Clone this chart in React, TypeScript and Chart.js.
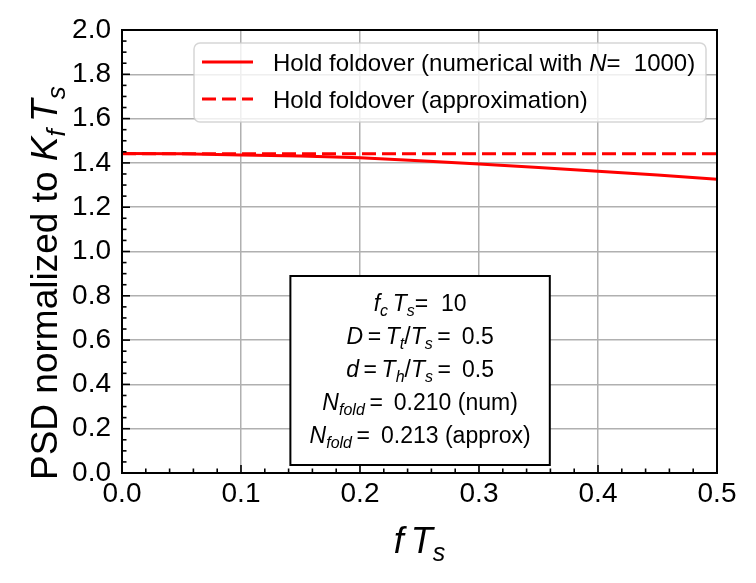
import { useEffect, useRef } from "react"
import { Chart, registerables } from "chart.js"

Chart.register(...registerables)

// data
const fTs = [0, 0.05, 0.1, 0.15, 0.2, 0.25, 0.3, 0.35, 0.4, 0.45, 0.5]
const holdNumerical = [1.442, 1.441, 1.436, 1.431, 1.423, 1.41, 1.395, 1.379, 1.362, 1.345, 1.326]
const approxX = [0, 0.5]
const holdApprox = [1.441, 1.441]

const legendLabels = ["Hold foldover (numerical with ", "Hold foldover (approximation)"]
const boxValues = ["10", "0.5", "0.5", "0.210 (num)", "0.213 (approx)"]

const FONT = '"Liberation Sans", Arial, sans-serif'

type Seg = { t: string; it?: boolean; sub?: boolean }

function segFont(s: Seg, size: number) {
  return `${s.it ? "italic " : ""}${s.sub ? Math.round(size * 0.7) : size}px ${FONT}`
}

// draws mixed italic / subscript text, x is the center (or left edge)
function drawRich(ctx: CanvasRenderingContext2D, segs: Seg[], x: number, y: number, size: number, align: "center" | "left" = "center") {
  ctx.save()
  ctx.textBaseline = "alphabetic"
  ctx.textAlign = "left"
  let total = 0
  const widths = segs.map((s) => {
    ctx.font = segFont(s, size)
    const w = ctx.measureText(s.t).width
    total += w
    return w
  })
  let cx = align === "center" ? x - total / 2 : x
  segs.forEach((s, i) => {
    ctx.font = segFont(s, size)
    ctx.fillText(s.t, cx, y + (s.sub ? size * 0.22 : 0))
    cx += widths[i]
  })
  ctx.restore()
}

const EQ = "\u2009=\u2009"

const decor = {
  id: "decor",
  afterDatasetsDraw(chart: Chart) {
    const ctx = chart.ctx
    const { left, right, top, bottom } = chart.chartArea
    const xs = chart.scales.x
    const ys = chart.scales.y

    // inward ticks
    ctx.save()
    ctx.strokeStyle = "#000"
    ctx.lineWidth = 1.6
    for (let i = 0; i <= 25; i++) {
      const px = xs.getPixelForValue(i * 0.02)
      const len = i % 5 === 0 ? 8 : 4.5
      ctx.beginPath()
      ctx.moveTo(px, bottom)
      ctx.lineTo(px, bottom - len)
      ctx.stroke()
    }
    for (let i = 0; i <= 40; i++) {
      const py = ys.getPixelForValue(i * 0.05)
      const len = i % 4 === 0 ? 8 : 4.5
      ctx.beginPath()
      ctx.moveTo(left, py)
      ctx.lineTo(left + len, py)
      ctx.stroke()
    }
    ctx.restore()

    // legend
    const lx = left + 72
    const lw = right - 11 - lx
    const ly = top + 13
    const lh = 79
    ctx.save()
    ctx.beginPath()
    ctx.roundRect(lx, ly, lw, lh, 6)
    ctx.fillStyle = "rgba(255,255,255,0.8)"
    ctx.fill()
    ctx.strokeStyle = "rgba(204,204,204,0.8)"
    ctx.lineWidth = 1.5
    ctx.stroke()
    chart.data.datasets.forEach((ds: any, i: number) => {
      const yy = ly + 19 + i * 37
      ctx.beginPath()
      ctx.strokeStyle = ds.borderColor
      ctx.lineWidth = ds.borderWidth
      ctx.setLineDash(ds.borderDash || [])
      ctx.moveTo(lx + 8, yy)
      ctx.lineTo(lx + 59, yy)
      ctx.stroke()
      ctx.setLineDash([])
      ctx.fillStyle = "#000"
      const segs: Seg[] = i === 0 ? [{ t: legendLabels[0] }, { t: "N", it: true }, { t: "=  1000)" }] : [{ t: legendLabels[1] }]
      drawRich(ctx, segs, lx + 79, yy + 8.5, 24, "left")
    })
    ctx.restore()

    // parameter box
    const bx0 = xs.getPixelForValue(0.1415)
    const bx1 = xs.getPixelForValue(0.3595)
    const by0 = top + 246
    const by1 = bottom - 8
    ctx.save()
    ctx.fillStyle = "#fff"
    ctx.fillRect(bx0, by0, bx1 - bx0, by1 - by0)
    ctx.strokeStyle = "#000"
    ctx.lineWidth = 2
    ctx.strokeRect(bx0, by0, bx1 - bx0, by1 - by0)
    ctx.fillStyle = "#000"
    const cx = (bx0 + bx1) / 2
    const lines: Seg[][] = [
      [{ t: "f", it: true }, { t: "c", it: true, sub: true }, { t: "\u2009" }, { t: "T", it: true }, { t: "s", it: true, sub: true }, { t: "=" }, { t: "  " + boxValues[0] }],
      [{ t: "D", it: true }, { t: EQ }, { t: "T", it: true }, { t: "t", it: true, sub: true }, { t: "/" }, { t: "T", it: true }, { t: "s", it: true, sub: true }, { t: EQ }, { t: " " + boxValues[1] }],
      [{ t: "d", it: true }, { t: EQ }, { t: "T", it: true }, { t: "h", it: true, sub: true }, { t: "/" }, { t: "T", it: true }, { t: "s", it: true, sub: true }, { t: EQ }, { t: " " + boxValues[2] }],
      [{ t: "N", it: true }, { t: "fold", it: true, sub: true }, { t: EQ }, { t: " " + boxValues[3] }],
      [{ t: "N", it: true }, { t: "fold", it: true, sub: true }, { t: EQ }, { t: " " + boxValues[4] }],
    ]
    lines.forEach((segs, i) => {
      drawRich(ctx, segs, cx, by0 + 34.5 + i * 33, 23)
    })
    ctx.restore()

    // frame
    ctx.save()
    ctx.strokeStyle = "#000"
    ctx.lineWidth = 2
    ctx.strokeRect(left, top, right - left, bottom - top)
    ctx.restore()
  },
  afterDraw(chart: Chart) {
    const ctx = chart.ctx
    const { left, right, bottom } = chart.chartArea
    ctx.save()
    ctx.fillStyle = "#000"
    drawRich(ctx, [{ t: "f", it: true }, { t: "\u2009" }, { t: "T", it: true }, { t: "s", it: true, sub: true }], (left + right) / 2, bottom + 80, 36)
    // y title starts just above the bottom of the axes and reads upward
    ctx.translate(57, bottom + 7)
    ctx.rotate(-Math.PI / 2)
    drawRich(
      ctx,
      [
        { t: "PSD normalized to " },
        { t: "K", it: true },
        { t: "f", it: true, sub: true },
        { t: "\u2009" },
        { t: "T", it: true },
        { t: "s", it: true, sub: true },
      ],
      0,
      0,
      37,
      "left"
    )
    ctx.restore()
  },
}

export default function App() {
  const chartRef = useRef<HTMLCanvasElement>(null)
  const chartInstance = useRef<Chart | null>(null)

  useEffect(() => {
    if (!chartRef.current) return
    if (chartInstance.current) chartInstance.current.destroy()
    const ctx = chartRef.current.getContext("2d")
    if (!ctx) return

    chartInstance.current = new Chart(ctx, {
      type: "line",
      data: {
        datasets: [
          {
            label: "numerical",
            data: fTs.map((x, i) => ({ x, y: holdNumerical[i] })),
            borderColor: "#ff0000",
            borderWidth: 3,
            pointRadius: 0,
            fill: false,
          },
          {
            label: "approximation",
            data: approxX.map((x, i) => ({ x, y: holdApprox[i] })),
            borderColor: "#ff0000",
            borderWidth: 3,
            borderDash: [14, 6],
            pointRadius: 0,
            fill: false,
          },
        ],
      },
      options: {
        animation: false,
        responsive: true,
        maintainAspectRatio: false,
        layout: { padding: { top: 30, right: 39, left: 0, bottom: 0 } },
        plugins: { legend: { display: false }, tooltip: { enabled: false } },
        scales: {
          x: {
            type: "linear",
            min: 0,
            max: 0.5,
            border: { display: false },
            grid: { color: "#b0b0b0", lineWidth: 1.5, drawTicks: false },
            ticks: {
              stepSize: 0.1,
              padding: 4,
              color: "#000",
              font: { size: 28, family: FONT },
              callback: (v: any) => Number(v).toFixed(1),
            },
            afterFit: (s: any) => {
              s.height = 110
            },
          },
          y: {
            type: "linear",
            min: 0,
            max: 2,
            border: { display: false },
            grid: { color: "#b0b0b0", lineWidth: 1.5, drawTicks: false },
            ticks: {
              stepSize: 0.2,
              padding: 11,
              color: "#000",
              font: { size: 28, family: FONT },
              callback: (v: any) => Number(v).toFixed(1),
            },
            afterFit: (s: any) => {
              s.width = 122
            },
          },
        },
      },
      plugins: [decor],
    })

    return () => {
      if (chartInstance.current) {
        chartInstance.current.destroy()
        chartInstance.current = null
      }
    }
  }, [])

  return (
    <div style={{ position: "absolute", left: 0, top: 0, width: 756, height: 583, background: "#fff" }}>
      <canvas ref={chartRef}></canvas>
    </div>
  )
}
